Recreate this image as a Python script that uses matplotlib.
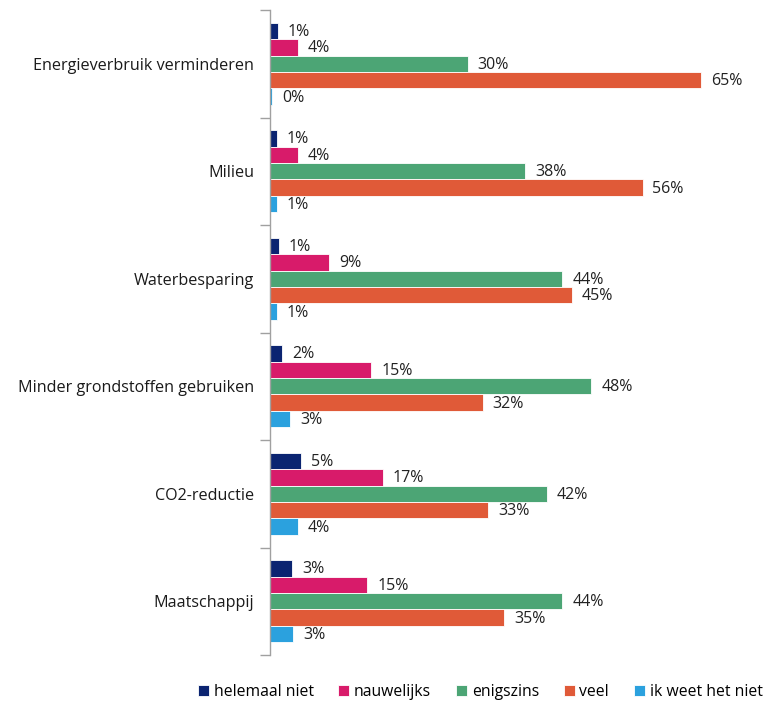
import matplotlib
matplotlib.use("Agg")
import matplotlib.pyplot as plt
import numpy as np

categories = ["Energieverbruik verminderen", "Milieu", "Waterbesparing",
              "Minder grondstoffen gebruiken", "CO2-reductie", "Maatschappij"]
series = ["helemaal niet", "nauwelijks", "enigszins", "veel", "ik weet het niet"]
colors = ["#0b2471", "#d81b6a", "#4ca575", "#e05a38", "#2ba1de"]

helemaal_niet = [1.2, 1.0, 1.3, 1.8, 4.7, 3.3]
nauwelijks = [4.2, 4.2, 8.9, 15.3, 17.0, 14.7]
enigszins = [29.8, 38.5, 44.1, 48.5, 41.8, 44.1]
veel = [65.0, 56.2, 45.5, 32.1, 32.9, 35.3]
ik_weet_het_niet = [0.3, 1.0, 1.0, 3.0, 4.2, 3.5]

label_helemaal = ["1%", "1%", "1%", "2%", "5%", "3%"]
label_nauwelijks = ["4%", "4%", "9%", "15%", "17%", "15%"]
label_enigszins = ["30%", "38%", "44%", "48%", "42%", "44%"]
label_veel = ["65%", "56%", "45%", "32%", "33%", "35%"]
label_ikweet = ["0%", "1%", "1%", "3%", "4%", "3%"]

values = [helemaal_niet, nauwelijks, enigszins, veel, ik_weet_het_niet]
labels = [label_helemaal, label_nauwelijks, label_enigszins, label_veel, label_ikweet]

plt.rcParams['font.family'] = ['Open Sans', 'DejaVu Sans']

fig = plt.figure(figsize=(7.67, 7.01), dpi=100)
ax = fig.add_axes([270/767, 46/701, 464/767, 645/701])

h = 0.153
y = np.arange(len(categories))
for j, (vals, labs, col, name) in enumerate(zip(values, labels, colors, series)):
    pos = y + (j - 2) * h
    ax.barh(pos, vals, height=h, color=col, edgecolor="white", linewidth=0.6, label=name)
    for p, v, l in zip(pos, vals, labs):
        ax.text(v + 1.5, p + 0.01, l, va="center", ha="left", fontsize=11.5, color="#222222")

ax.set_xlim(0, 70)
ax.set_ylim(len(categories) - 0.5, -0.5)

ax.set_yticks(np.arange(-0.5, len(categories)), minor=False)
ax.set_yticklabels([])
ax.tick_params(axis="y", which="major", length=7, color="#a0a0a0", width=1)
ax.set_yticks(y, minor=True)
ax.set_yticklabels(categories, minor=True, fontsize=11.6, color="#1a1a1a")
ax.tick_params(axis="y", which="minor", length=0, pad=11.5)

ax.set_xticks([])
for s in ["top", "right", "bottom"]:
    ax.spines[s].set_visible(False)
ax.spines["left"].set_color("#a0a0a0")
ax.spines["left"].set_linewidth(1)

fig.legend(loc="center", bbox_to_anchor=(0.626, 0.013), ncol=5, frameon=False,
           fontsize=11.3, handlelength=0.7, handleheight=0.7, handletextpad=0.3,
           columnspacing=1.58, borderaxespad=0)

fig.savefig("out.png", dpi=100)
